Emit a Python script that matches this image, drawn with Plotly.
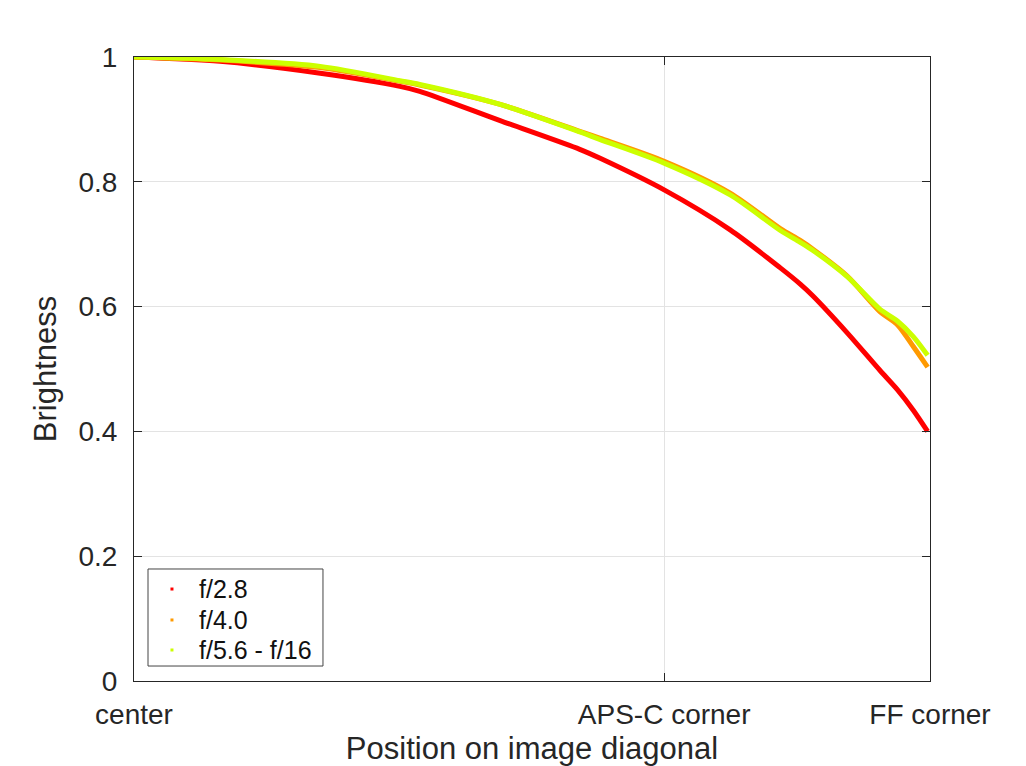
import plotly.graph_objects as go

# Position along image diagonal (0 = center, 1 = full-frame corner)
position = [0.000, 0.108, 0.234, 0.334, 0.359, 0.460, 0.560, 0.585, 0.666,
            0.749, 0.812, 0.837, 0.853, 0.896, 0.937, 0.959, 0.979, 0.997]

f28 = [1.000, 0.993, 0.974, 0.953, 0.945, 0.898, 0.852, 0.838, 0.787,
       0.723, 0.662, 0.636, 0.617, 0.558, 0.498, 0.467, 0.434, 0.400]
f40 = [1.000, 0.995, 0.983, 0.961, 0.955, 0.924, 0.881, 0.870, 0.833,
       0.782, 0.725, 0.706, 0.692, 0.649, 0.592, 0.571, 0.536, 0.503]
f56_16 = [1.000, 0.996, 0.985, 0.962, 0.956, 0.924, 0.880, 0.868, 0.830,
          0.779, 0.722, 0.703, 0.690, 0.648, 0.596, 0.577, 0.552, 0.522]

series_names = ["f/2.8", "f/4.0", "f/5.6 - f/16"]
series_values = [f28, f40, f56_16]
colors = ["#ff0000", "#ff9a00", "#ccff00"]

xtick_vals = [0, 0.666, 1]
xtick_text = ["center", "APS-C corner", "FF corner"]
ytick_vals = [0, 0.2, 0.4, 0.6, 0.8, 1]
ytick_text = ["0", "0.2", "0.4", "0.6", "0.8", "1"]

fig = go.Figure()
for name, vals, col in zip(series_names, series_values, colors):
    fig.add_trace(go.Scatter(x=position, y=vals, mode="lines", name=name,
                             line=dict(color=col, width=5, shape="spline", smoothing=0.8),
                             showlegend=False))

fam = "Liberation Sans, Arial, sans-serif"
tick_font = dict(family=fam, size=28, color="#262626")
title_font = dict(family=fam, size=31, color="#262626")
axis_common = dict(showline=True, linecolor="#262626", linewidth=1, mirror="ticks",
                   ticks="inside", ticklen=8, tickcolor="#262626",
                   showgrid=True, gridcolor="#e3e3e3", gridwidth=1, zeroline=False,
                   tickfont=tick_font, automargin=False)

# Legend drawn in paper coordinates (box, small square markers, labels)
leg_box = dict(x0=0.0176, x1=0.2374, y0=0.024, y1=0.1795)
leg_marker_x = 0.0477
leg_text_x = 0.0791
leg_rows_y = [0.1474, 0.0978, 0.0497]

shapes = [dict(type="rect", xref="paper", yref="paper", **leg_box,
               line=dict(color="#444444", width=1), fillcolor="white", layer="above")]
annotations = []
for name, col, yy in zip(series_names, colors, leg_rows_y):
    shapes.append(dict(type="rect", xref="paper", yref="paper",
                       xsizemode="pixel", ysizemode="pixel",
                       xanchor=leg_marker_x, yanchor=yy,
                       x0=-1.5, x1=1.5, y0=-1.5, y1=1.5,
                       line=dict(width=0), fillcolor=col, layer="above"))
    annotations.append(dict(xref="paper", yref="paper", x=leg_text_x, y=yy,
                            xanchor="left", yanchor="middle", showarrow=False,
                            text=name, font=dict(family=fam, size=25, color="#111111")))

fig.update_layout(
    width=1026, height=766,
    margin=dict(l=134, r=96, t=57, b=85),
    paper_bgcolor="white", plot_bgcolor="white",
    font=dict(family=fam, color="#262626"),
    showlegend=False,
    xaxis=dict(range=[0, 1], tickvals=xtick_vals, ticktext=xtick_text,
               ticklabelstandoff=8,
               title=dict(text="Position on image diagonal", font=title_font, standoff=12),
               **axis_common),
    yaxis=dict(range=[0, 1], tickvals=ytick_vals, ticktext=ytick_text,
               ticklabelstandoff=10,
               title=dict(text="Brightness", font=title_font, standoff=12),
               **axis_common),
    shapes=shapes,
    annotations=annotations,
)

fig.write_html("out.html")
